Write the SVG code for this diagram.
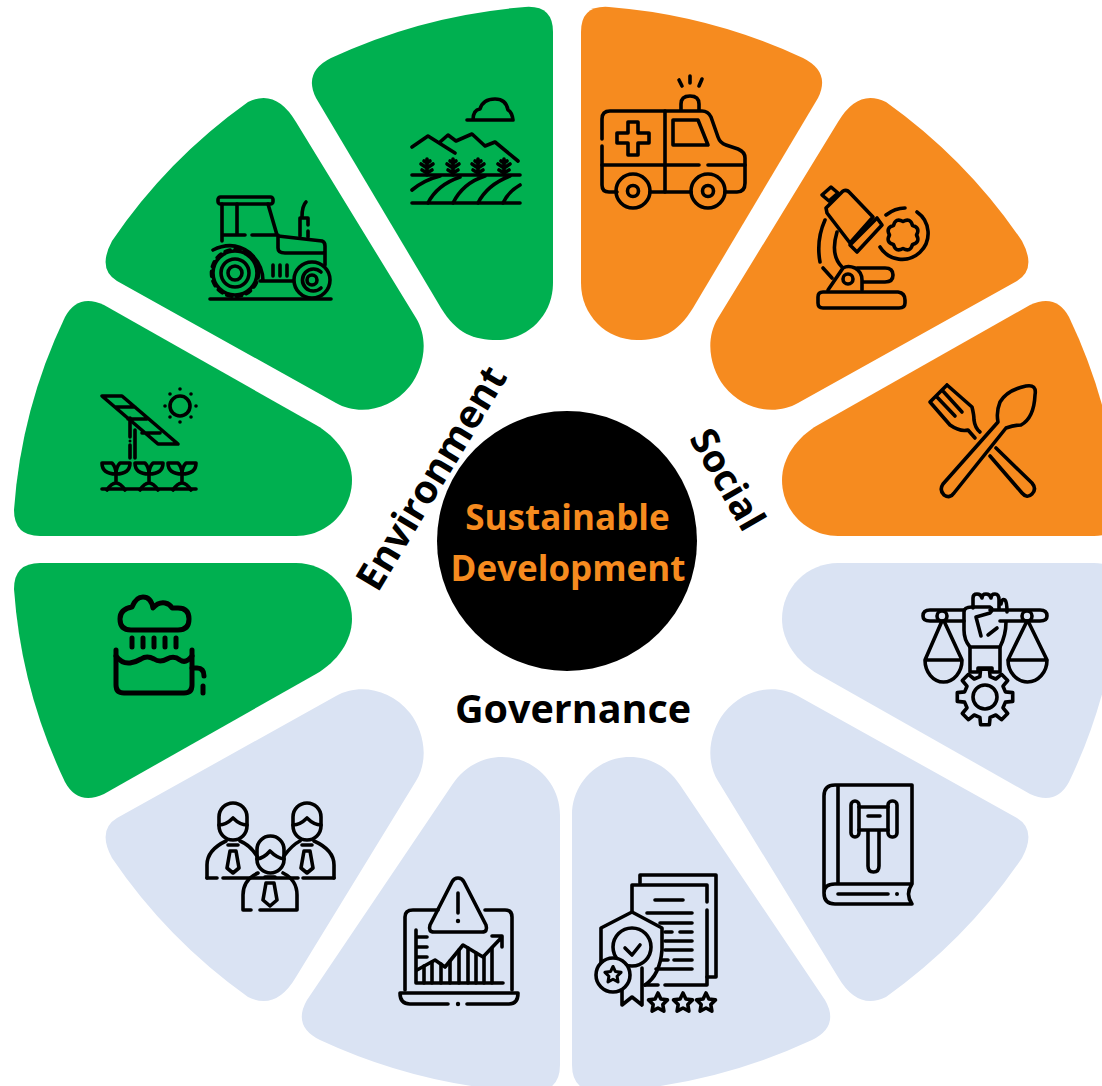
<svg xmlns="http://www.w3.org/2000/svg" width="1102" height="1086" viewBox="0 0 1102 1086">
<style>
.g{fill:#00B050}.o{fill:#F68B1F}.b{fill:#DAE3F3}
.i{fill:none;stroke:#000;stroke-width:3.6;stroke-linecap:round;stroke-linejoin:round}
.t{font-family:"Open Sans","Liberation Sans",sans-serif;font-weight:700;text-anchor:middle}
.dot{fill:#000;stroke:none}
</style>
<defs>
<path id="s1" d="M581 32Q581 5 609 7A555 543 0 0 1 803 58Q831 72 818 98L693 308C677.500 333.700 660 340 637 340C606 340 581 315 581 283Z"/>
<path id="s2" d="M838 122Q858 88 886 102A555 543 0 0 1 1022 241Q1037 269 1017 281L798 403C777 415 745 412 724 386C711 369 704 341 718 318Z"/>
<path id="s3" d="M818 425L1030 305Q1056 293 1069 317A555 543 0 0 1 1120 510Q1120 536 1094 536H838C807 536 782 511 782 480C782 458 797 437 818 425Z"/>
<path id="s4" d="M572 815C572 783 598 757 630 757C650 757 668 767 680 785L825 1000Q840 1026 812 1040A555 543 0 0 1 600 1092Q572 1092 572 1065Z"/>
<polygon id="star" points="0,-10 2.9,-4 9.5,-3.1 4.8,1.5 5.9,8.1 0,5 -5.9,8.1 -4.8,1.5 -9.5,-3.1 -2.9,-4"/>
<g id="tree"><path d="M0 0V16M-6 5L0 9L6 5M-5 11L0 14L5 11M-3 2L0 4L3 2"/></g>
<g id="plant"><path d="M0 10V18M0 10Q-14 10-14 -1H-4Q0 3 0 10M0 10Q14 10 14 -1H4Q0 3 0 10M-9 26Q0 12 9 26"/></g>
</defs>

<g id="ambulance">
<use href="#s1" class="o"/>
<g class="i">
<path d="M681 110V104Q681 96 690 96Q699 96 699 104V110"/>
<path d="M679 80L682 86M690 76V83M702 79L699 86"/>
<path d="M602 139V119Q602 111 610 111H702Q708 111 711 117L718 137Q720 143 726 145L738 149Q745 152 745 158V183Q745 192 737 192H725M691 192H650M617 192H609Q602 192 602 185V146"/>
<path d="M665 111V192M602 165H699M708 165H745"/>
<circle cx="633" cy="191" r="17"/><circle cx="633" cy="191" r="5.5"/>
<circle cx="708" cy="191" r="17"/><circle cx="708" cy="191" r="5.5"/>
<path d="M628 122H638V133H649V143H638V155H628V143H617V133H628Z"/>
<path d="M673 120H698L708 145H673Z"/>
</g>
</g>

<g id="microscope">
<use href="#s2" class="o"/>
<g class="i">
<path d="M822 195L831 187L838 193L829 201Z"/>
<path d="M826 208L843 191Q847 189 850 193L873 217L850 243L827 213Z"/>
<path d="M850 245L877 218L882 225L857 252Z"/>
<path d="M825 220Q816 240 820 262M823 268L832 278M837 232Q830 255 842 267"/>
<path d="M917 212A26 26 0 1 1 880 247M886 215Q895 208 905 208"/>
<path d="M916.500 235Q920.600 242.300 912.500 244.500Q910.300 252.600 903 248.500Q895.700 252.600 893.500 244.500Q885.400 242.300 889.500 235Q885.400 227.700 893.500 225.500Q895.700 217.400 903 221.500Q910.300 217.400 912.500 225.500Q920.600 227.700 916.500 235Z"/>
<path d="M823 292H898Q905 293 905 300V303Q905 308 899 308H823Q818 308 818 303V297Q818 292 823 292Z"/>
<path d="M828 290L843 268Q848 265 855 268Q862 272 862 280V290"/>
<circle cx="848" cy="279" r="5"/>
<path d="M857 268H885Q893 268 893 275Q893 282 885 282H863"/>
</g>
</g>

<g id="cutlery">
<use href="#s3" class="o"/>
<g class="i">
<path d="M998 422L943 484Q939 490 944 495Q950 499 954 493L1006 428Q1014 425 1021 425Q1034 418 1035 395Q1037 384 1026 386Q1007 390 1000 402Q996 412 998 422Z"/>
<path d="M947 385L972 407Q974 415 974 420Q975 428 980 432M930 402L950 425Q960 432 968 430L975 438M947 385L942 390L962 412M942 390L936 396L955 416M936 396L930 402"/>
<path d="M996 448L1032 483Q1037 489 1032 494Q1027 499 1022 493L990 456"/>
</g>
</g>

<g id="justice">
<use href="#s3" class="b" transform="matrix(1 0 0 -1 0 1099)"/>
<g class="i">
<path d="M964 610H930Q923 610 923 616Q923 621 930 621H964M990 610H1040Q1047 610 1047 616Q1047 621 1040 621H1000"/>
<circle cx="942" cy="616" r="5" class="b" style="stroke:#000"/>
<circle cx="1027" cy="616" r="5" class="b" style="stroke:#000"/>
<path d="M942 621L925 660M944 621L962 660M925 660H962A18.500 22 0 0 1 925 660"/>
<path d="M1027 621L1008 660M1028 621L1047 660M1008 660H1047A19.500 22 0 0 1 1008 660"/>
<path d="M973 608V598Q973 594 977 594Q981 594 982 598Q982 594 986 594Q990 594 991 598Q991 594 995 594Q999 594 999 600V609M1001 604Q1002 598 1005 600Q1007 602 1007 612"/>
<path d="M964 612Q964 607 972 607H990Q994 609 990 613L976 617L981 636M964 612V630Q964 640 970 647H1000Q1006 635 1006 622M988 635L997 628"/>
<path d="M970 647V672M1000 647V672M970 672H978V668H992V672H1000"/>
<g transform="translate(985 697)">
<polygon points="20.400,-5.100 27.700,-4.400 27.700,4.400 20.400,5.100 18,10.800 22.700,16.500 16.500,22.700 10.800,18 5.100,20.400 4.400,27.700 -4.400,27.700 -5.100,20.400 -10.800,18 -16.500,22.700 -22.700,16.500 -18,10.800 -20.400,5.100 -27.700,4.400 -27.700,-4.400 -20.400,-5.100 -18,-10.800 -22.700,-16.500 -16.500,-22.700 -10.800,-18 -5.100,-20.400 -4.400,-27.700 4.400,-27.700 5.100,-20.400 10.800,-18 16.500,-22.700 22.700,-16.500 18,-10.800"/>
<circle r="12"/>
</g>
</g>
</g>

<g id="law-book">
<use href="#s2" class="b" transform="matrix(1 0 0 -1 0 1099)"/>
<g class="i">
<path d="M912 785H835Q824 785 824 796V893Q824 904 835 904H912Q905 894 912 884V785ZM838 785V884M824 893Q824 884 835 884H912"/>
<path d="M838 894H888"/>
<circle class="dot" cx="897" cy="894" r="2"/>
<rect x="851" y="801" width="8" height="36" rx="4"/>
<rect x="888" y="801" width="9" height="36" rx="4"/>
<path d="M859 807H888M859 830H888M868 816H880M868 830V866Q868 872 873.500 872Q879 872 879 866V830"/>
</g>
</g>

<g id="certificate">
<use href="#s4" class="b"/>
<g class="i">
<path d="M640 883V875H716V977H707"/>
<path d="M632 911V885H707V902M707 910V985H665M658 985H645"/>
<path d="M655 900H683M647 913H692M660 923H692M665 932H672M680 932H692M665 941H692M665 950H692M662 960H668M674 960H692M656 969H692"/>
<path d="M601 965V928L632 912L662 928V950Q660 975 645 985"/>
<circle cx="632" cy="947" r="19"/>
<path d="M625 948L632 955L640 945"/>
<path d="M622 988V1005L632 997L642 1005V968"/>
<circle cx="613" cy="975" r="17" class="b" style="stroke:#000"/>
<use href="#star" transform="translate(613 975) scale(.85)"/>
<use href="#star" x="658" y="1003"/>
<use href="#star" x="683" y="1003"/>
<use href="#star" x="706" y="1003"/>
</g>
</g>

<g id="risk-chart">
<use href="#s4" class="b" transform="matrix(-1 0 0 1 1132 0)"/>
<g class="i">
<path d="M405 990V917Q405 910 413 910H438M485 910H505Q512 910 512 917V990"/>
<path d="M458 878Q462 878 464 882L486 925Q488 932 482 932H434Q428 932 430 925L452 882Q454 878 458 878Z"/>
<path d="M458 893V913"/>
<circle class="dot" cx="458" cy="921" r="2.200"/>
<path d="M416 930V983H503M416 937H427M416 947H427M416 957H427"/>
<path d="M417 970L435 960L445 967L463 945L483 957L502 937M492 936H502V947"/>
<path d="M424 966V983M432 962V983M441 964V983M450 961V983M459 950V983M468 948V983M476 953V983M484 956V983M492 948V983"/>
<path d="M400 993H518M400 993Q400 1004 410 1004H448M467 1004H509Q518 1004 518 993"/>
<circle class="dot" cx="458" cy="1004" r="2.200"/>
</g>
</g>

<g id="board">
<use href="#s2" class="b" transform="matrix(-1 0 0 -1 1134 1099)"/>
<g class="i">
<rect x="219" y="803" width="28" height="37" rx="14"/>
<rect x="293" y="803" width="28" height="37" rx="14"/>
<rect x="257" y="836" width="27" height="37" rx="13.500"/>
<path d="M219 825Q226 825 233 818Q240 825 247 825M293 825Q300 825 307 818Q314 825 321 825M257 859Q264 858 270 851Q277 858 284 859"/>
<path d="M207 878V865Q207 850 226 841M240 841Q250 845 257 856M284 856Q292 845 300 841M314 841Q334 850 334 865V878"/>
<path d="M207 878H217M223 878H298M303 878H334"/>
<path d="M228 845H238M230 851L227 868L233 873L239 868L236 851ZM302 845H312M304 851L301 868L307 873L313 868L310 851Z"/>
<path d="M243 910V895Q243 880 258 873M283 873Q297 880 297 895V910M243 910H251M260 910H297"/>
<path d="M265 877H275M266 883L263 900L270 906L277 900L274 883Z"/>
</g>
</g>

<g id="tractor">
<use href="#s2" class="g" transform="matrix(-1 0 0 1 1134 0)"/>
<g class="i">
<rect x="218" y="197" width="55" height="7" rx="2.500"/>
<path d="M222 204V241M237 204V235M268 204L277 235M222 235H245M252 235H278"/>
<path d="M278 236L322 241Q325 242 325 246V265M278 236V248Q278 253 285 253H323"/>
<path d="M300 236V218H308V225M308 231V237M306 202Q302 206 302 217"/>
<path d="M213 250Q233 240 250 253Q263 265 263 281M260 281H293"/>
<circle cx="235" cy="273" r="22"/>
<circle cx="235" cy="273" r="23.500" stroke-dasharray="5 5"/>
<circle cx="235" cy="273" r="14"/><circle cx="235" cy="273" r="7"/>
<path d="M273 265V276M280 265V276M287 265V276"/>
<circle cx="312" cy="280" r="18"/>
<path d="M321 272A11 11 0 1 0 321 288"/><circle cx="312" cy="280" r="5"/>
<path d="M210 299H331"/>
</g>
</g>

<g id="farmland">
<use href="#s1" class="g" transform="matrix(-1 0 0 1 1134 0)"/>
<g class="i">
<path d="M467 120H513M473 120Q473 110 480 109Q483 99 495 99Q506 99 508 110Q512 112 513 120"/>
<path d="M412 147L428 136L455 153M440 142L448 135L456 141L472 134L485 146L495 142L518 161"/>
<path d="M412 175H520M412 203H520"/>
<use href="#tree" x="427" y="159"/><use href="#tree" x="453" y="159"/><use href="#tree" x="478" y="159"/><use href="#tree" x="504" y="159"/>
<path d="M412 190Q424 180 440 176M428 203Q437 185 460 177M453 203Q463 183 485 176M478 203Q487 185 510 176M503 203Q508 192 520 185"/>
</g>
</g>

<g id="solar-crops">
<use href="#s3" class="g" transform="matrix(-1 0 0 1 1134 0)"/>
<g class="i">
<path d="M102 396H122L178 444H158ZM115 407H135M128 419H147M142 433H160"/>
<path d="M130 418V437M130 445V458M135 430V458"/>
<circle class="dot" cx="130" cy="441" r="1.500"/>
<circle cx="180" cy="406" r="10"/>
<g class="dot"><circle cx="180" cy="389" r="1.800"/><circle cx="180" cy="422" r="1.800"/><circle cx="165" cy="406" r="1.800"/><circle cx="196" cy="406" r="1.800"/><circle cx="170" cy="394" r="1.800"/><circle cx="191" cy="394" r="1.800"/><circle cx="170" cy="417" r="1.800"/><circle cx="191" cy="417" r="1.800"/></g>
<path d="M102 489H196"/>
<use href="#plant" x="116" y="464"/><use href="#plant" x="149" y="464"/><use href="#plant" x="182" y="464"/>
</g>
</g>

<g id="rainwater">
<use href="#s3" class="g" transform="matrix(-1 0 0 -1 1134 1099)"/>
<g class="i" style="stroke-width:5">
<path d="M131 630Q120 630 120 619Q120 609 132 607Q136 597 143 597Q151 597 153 608Q158 602 165 603Q170 604 172 608H178Q189 608 189 619Q189 630 178 630Z"/>
<path d="M132 638V647M143 638V647M154 638V647M165 638V647M176 638V647"/>
<path d="M116 650V685Q116 693 124 693H184Q192 693 192 685V650"/>
<path d="M116 656Q122 664 130 663Q136 662 141 659Q147 655 154 659Q160 663 167 659Q174 655 180 660Q186 664 192 656"/>
<path d="M192 668H197Q204 668 204 676M203 686V693"/>
</g>
</g>

<g id="hub">
<circle cx="567" cy="541" r="130" fill="#000"/>
<text class="t" x="567.500" y="530" font-size="35" fill="#F68B1F">Sustainable</text>
<text class="t" x="568" y="581" font-size="35" fill="#F68B1F">Development</text>
</g>
<g id="labels">
<text class="t" x="573" y="723" font-size="39.500" fill="#000">Governance</text>
<text class="t" font-size="39" fill="#000" transform="translate(443 485) rotate(-59)">Environment</text>
<text class="t" font-size="38" fill="#000" transform="translate(716 486) rotate(60)">Social</text>
</g>
</svg>
